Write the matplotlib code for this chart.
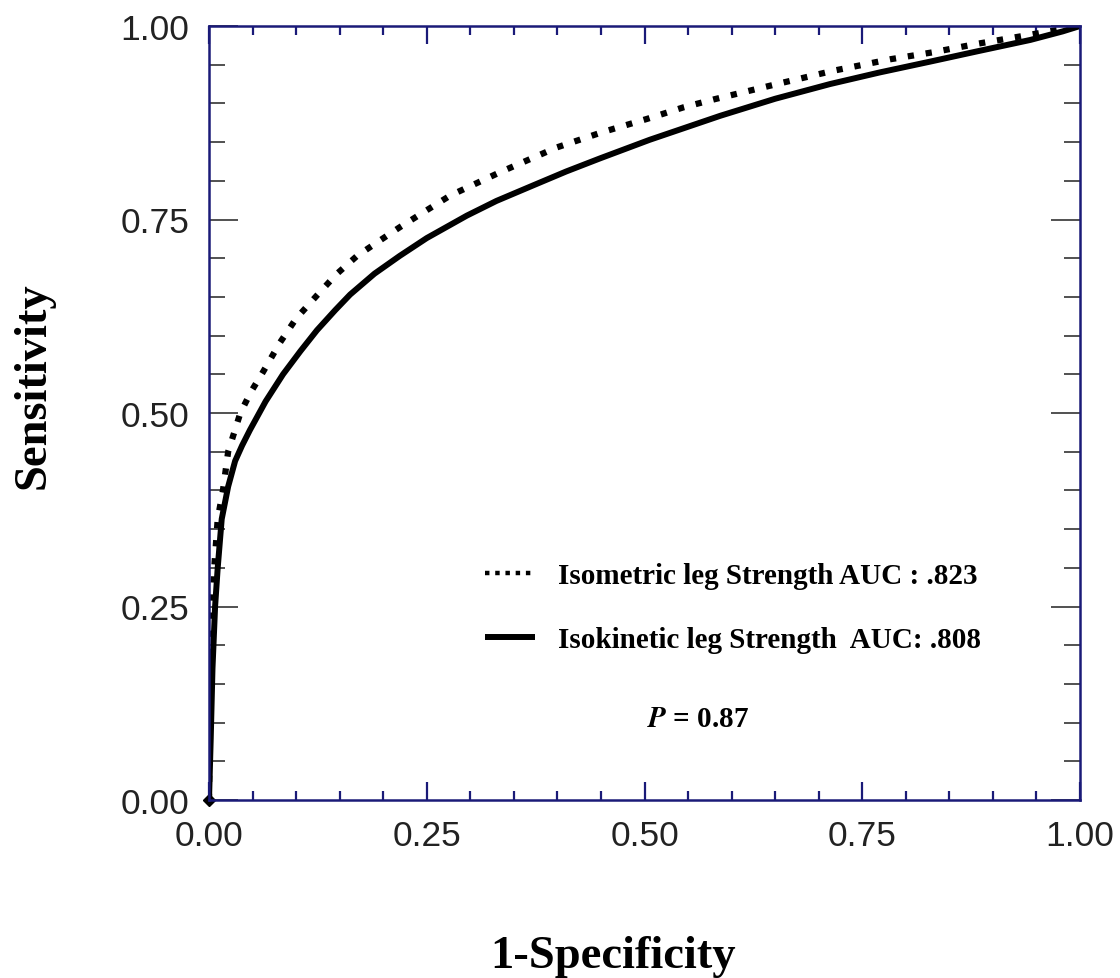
import matplotlib
matplotlib.use("Agg")
import matplotlib.pyplot as plt
from matplotlib.ticker import MultipleLocator

# ---- data ----
isometric_fpr = [0, 0.001, 0.003, 0.006, 0.010, 0.016, 0.022, 0.036, 0.048, 0.062, 0.0815,
                 0.1, 0.124, 0.146, 0.170, 0.195, 0.219, 0.25, 0.277, 0.334, 0.399, 0.452,
                 0.503, 0.545, 0.579, 0.652, 0.716, 0.782, 0.831, 0.882, 0.939, 1.0]
isometric_tpr = [0, 0.12, 0.22, 0.30, 0.363, 0.40, 0.45, 0.50, 0.527, 0.553, 0.591,
                 0.622, 0.652, 0.679, 0.703, 0.722, 0.740, 0.762, 0.781, 0.811, 0.843, 0.863,
                 0.880, 0.895, 0.905, 0.925, 0.942, 0.957, 0.966, 0.977, 0.988, 1.0]

isokinetic_fpr = [0, 0.002, 0.004, 0.007, 0.010, 0.0146, 0.022, 0.030, 0.038, 0.047, 0.065,
                  0.085, 0.105, 0.124, 0.145, 0.162, 0.19, 0.219, 0.25, 0.296, 0.33, 0.372,
                  0.41, 0.449, 0.506, 0.587, 0.65, 0.713, 0.77, 0.828, 0.885, 0.943, 0.98, 1.0]
isokinetic_tpr = [0, 0.08, 0.17, 0.25, 0.30, 0.363, 0.405, 0.438, 0.458, 0.478, 0.515,
                  0.55, 0.58, 0.607, 0.633, 0.653, 0.68, 0.703, 0.726, 0.755, 0.774, 0.794,
                  0.812, 0.829, 0.853, 0.884, 0.906, 0.925, 0.94, 0.954, 0.968, 0.982, 0.993, 1.0]

labels = ["Isometric leg Strength AUC : .823", "Isokinetic leg Strength  AUC: .808"]
p_text = r"$\mathbfit{P}$ = 0.87"
tick_vals = [0.0, 0.25, 0.5, 0.75, 1.0]
tick_labels = ["0.00", "0.25", "0.50", "0.75", "1.00"]

NAVY = "#1a1a78"

fig = plt.figure(figsize=(11.2, 9.79), dpi=100)
ax = fig.add_axes([209 / 1120, 1 - 801 / 979, 871 / 1120, 774 / 979])

ax.plot(isometric_fpr, isometric_tpr, color="black", lw=4.5, linestyle=(0, (1, 1.9)),
        label=labels[0])
ax.plot(isokinetic_fpr, isokinetic_tpr, color="black", lw=4.3, solid_capstyle="butt",
        solid_joinstyle="round", label=labels[1])
ax.plot([isokinetic_fpr[0]], [isokinetic_tpr[0]], marker="D", color="black", ms=6,
        clip_on=False)

ax.set_xlim(0, 1)
ax.set_ylim(0, 1)
ax.set_xticks(tick_vals)
ax.set_xticklabels(tick_labels)
ax.set_yticks(tick_vals)
ax.set_yticklabels(tick_labels)
ax.xaxis.set_minor_locator(MultipleLocator(0.05))
ax.yaxis.set_minor_locator(MultipleLocator(0.05))

for s in ax.spines.values():
    s.set_color(NAVY)
    s.set_linewidth(1.8)

ax.tick_params(axis="x", which="both", direction="in", top=True, bottom=True,
               color=NAVY, width=1.6, labelsize=25.5, pad=14, labelcolor="#222222")
ax.tick_params(axis="x", which="major", length=13)
ax.tick_params(axis="x", which="minor", length=6.5)
ax.tick_params(axis="y", which="both", direction="in", left=True, right=True,
               color="#333333", width=1.2, labelsize=25.5, pad=14, labelcolor="#222222")
ax.tick_params(axis="y", which="major", length=21)
ax.tick_params(axis="y", which="minor", length=11.5)
for lab in ax.get_xticklabels() + ax.get_yticklabels():
    lab.set_fontfamily("Liberation Sans")

fig.text(613 / 1120, 1 - 968 / 979, "1-Specificity", ha="center", va="baseline",
         fontsize=33.5, fontweight="bold", family="Liberation Serif")
fig.text(34 / 1120, 1 - 386 / 979, "Sensitivity", ha="center", va="center", rotation=90,
         fontsize=33.5, fontweight="bold", family="Liberation Serif")

leg = ax.legend(loc="upper left", bbox_to_anchor=(485 / 1120, 1 - 563 / 979),
                bbox_transform=fig.transFigure, frameon=False, handlelength=1.7,
                handletextpad=0.8, labelspacing=1.28, borderpad=0, borderaxespad=0,
                prop={"family": "Liberation Serif", "weight": "bold", "size": 21})
# finer dots in the legend sample, as in the reference
leg.get_lines()[0].set_linewidth(3.2)
leg.get_lines()[0].set_linestyle((0, (1, 1.3)))

fig.text(647 / 1120, 1 - 727 / 979, p_text, ha="left", va="baseline", fontsize=21,
         fontweight="bold", family="Liberation Serif", math_fontfamily="stix")

fig.savefig("out.png", dpi=100)
